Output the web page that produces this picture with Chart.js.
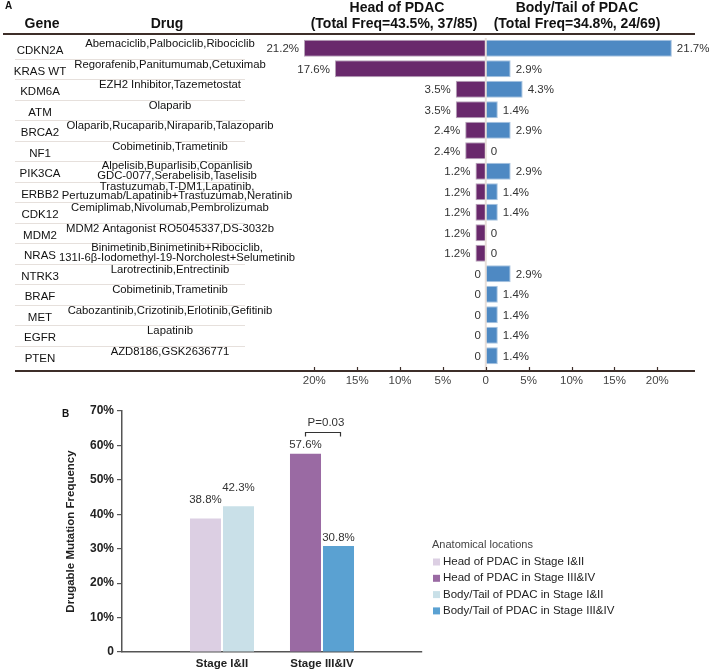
<!DOCTYPE html>
<html lang="en">
<head>
<meta charset="UTF-8">
<title>Drugable mutations in PDAC</title>
<script src="https://cdn.jsdelivr.net/npm/chart.js@4"></script>
<style>
  body { margin: 0; background: #fff; width: 709px; height: 670px; position: relative; overflow: hidden; }
  canvas { position: absolute; left: 0; }
  #panelA { top: 0; }
  #panelB { top: 395px; }
</style>
</head>
<body>
<canvas id="panelA" width="709" height="395"></canvas>
<canvas id="panelB" width="709" height="275"></canvas>
<script>
const FONT = "'Liberation Sans', Arial, Helvetica, sans-serif";

// ---- panel A data ----
const genes = ['CDKN2A', 'KRAS WT', 'KDM6A', 'ATM', 'BRCA2', 'NF1', 'PIK3CA', 'ERBB2',
               'CDK12', 'MDM2', 'NRAS', 'NTRK3', 'BRAF', 'MET', 'EGFR', 'PTEN'];
const drugs = [
  ['Abemaciclib,Palbociclib,Ribociclib'],
  ['Regorafenib,Panitumumab,Cetuximab'],
  ['EZH2 Inhibitor,Tazemetostat'],
  ['Olaparib'],
  ['Olaparib,Rucaparib,Niraparib,Talazoparib'],
  ['Cobimetinib,Trametinib'],
  ['Alpelisib,Buparlisib,Copanlisib', 'GDC-0077,Serabelisib,Taselisib'],
  ['Trastuzumab,T-DM1,Lapatinib,', 'Pertuzumab/Lapatinib+Trastuzumab,Neratinib'],
  ['Cemiplimab,Nivolumab,Pembrolizumab'],
  ['MDM2 Antagonist RO5045337,DS-3032b'],
  ['Binimetinib,Binimetinib+Ribociclib,', '131I-6\u03b2-Iodomethyl-19-Norcholest+Selumetinib'],
  ['Larotrectinib,Entrectinib'],
  ['Cobimetinib,Trametinib'],
  ['Cabozantinib,Crizotinib,Erlotinib,Gefitinib'],
  ['Lapatinib'],
  ['AZD8186,GSK2636771']
];
const headFreq = [21.2, 17.6, 3.5, 3.5, 2.4, 2.4, 1.2, 1.2, 1.2, 1.2, 1.2, 0, 0, 0, 0, 0];
const bodyFreq = [21.7, 2.9, 4.3, 1.4, 2.9, 0, 2.9, 1.4, 1.4, 0, 0, 2.9, 1.4, 1.4, 1.4, 1.4];
const headTitle = ['Head of PDAC', '(Total Freq=43.5%, 37/85)'];
const bodyTitle = ['Body/Tail of PDAC', '(Total Freq=34.8%, 24/69)'];

// ---- panel B data ----
const stages = ['Stage I&II', 'Stage III&IV'];
const headByStage = [38.8, 57.6];
const bodyByStage = [42.3, 30.8];
const groupLabels = ['Head of PDAC in Stage I&II', 'Head of PDAC in Stage III&IV',
                     'Body/Tail of PDAC in Stage I&II', 'Body/Tail of PDAC in Stage III&IV'];
const pText = 'P=0.03';

Chart.defaults.font.family = FONT;
Chart.defaults.color = '#333';

const pct = v => v === 0 ? '0' : v + '%';

function line(ctx, x1, y1, x2, y2) {
  ctx.beginPath();
  ctx.moveTo(x1, y1);
  ctx.lineTo(x2, y2);
  ctx.stroke();
}

// table, headers, rules and value labels for panel A
const tablePlugin = {
  id: 'table',
  afterDatasetsDraw(chart) {
    const { ctx, chartArea, scales: { x, y } } = chart;
    const zero = x.getPixelForValue(0);
    const axisY = chartArea.bottom + 5;
    ctx.save();

    // zero line
    ctx.strokeStyle = '#e8dfda';
    ctx.lineWidth = 2;
    line(ctx, zero, chartArea.top, zero, axisY);

    // value labels
    ctx.font = `11.5px ${FONT}`;
    ctx.fillStyle = '#333';
    ctx.textBaseline = 'middle';
    chart.getDatasetMeta(0).data.forEach((bar, i) => {
      ctx.textAlign = 'right';
      ctx.fillText(pct(headFreq[i]), Math.min(bar.x, zero) - 5, bar.y + 1);
    });
    chart.getDatasetMeta(1).data.forEach((bar, i) => {
      ctx.textAlign = 'left';
      ctx.fillText(pct(bodyFreq[i]), Math.max(bar.x, zero) + 5, bar.y + 1);
    });

    // headers
    ctx.fillStyle = '#111';
    ctx.textAlign = 'center';
    ctx.font = `bold 14px ${FONT}`;
    ctx.fillText('Gene', 42, 24);
    ctx.fillText('Drug', 167, 24);
    ctx.fillText(headTitle[0], 397, 8);
    ctx.fillText(headTitle[1], 394, 24);
    ctx.fillText(bodyTitle[0], 577, 8);
    ctx.fillText(bodyTitle[1], 577, 24);
    ctx.font = `bold 10px ${FONT}`;
    ctx.textAlign = 'left';
    ctx.fillText('A', 5, 6);

    // rules
    ctx.strokeStyle = '#3d2e29';
    ctx.lineWidth = 2;
    line(ctx, 3, 34, 695, 34);
    line(ctx, 15, axisY, 695, axisY);
    ctx.lineWidth = 1.2;
    x.ticks.forEach(t => {
      const px = Math.round(x.getPixelForValue(t.value)) + 0.5;
      line(ctx, px, axisY, px, axisY - 4);
    });

    // table rows
    const rowH = y.getPixelForValue(1) - y.getPixelForValue(0);
    ctx.strokeStyle = '#e6e0dc';
    ctx.lineWidth = 1;
    genes.forEach((g, i) => {
      const cy = y.getPixelForValue(i);
      if (i < genes.length - 1) {
        line(ctx, 15, Math.round(cy + rowH / 2) + 0.5, 245, Math.round(cy + rowH / 2) + 0.5);
      }
      ctx.fillStyle = '#111';
      ctx.textAlign = 'center';
      ctx.font = `11.5px ${FONT}`;
      ctx.fillText(g, 40, cy + 3);
      ctx.font = `11.3px ${FONT}`;
      const lines = drugs[i];
      if (lines.length === 1) {
        ctx.fillText(lines[0], 170, cy - 4, 212);
      } else {
        ctx.fillText(lines[0], 177, cy - 5, 236);
        ctx.fillText(lines[1], 177, cy + 4.5, 236);
      }
    });
    ctx.restore();
  }
};

const noZeroBorder = c => (c.raw === 0 ? 0 : 1);

new Chart(document.getElementById('panelA'), {
  type: 'bar',
  data: {
    labels: genes,
    datasets: [
      {
        label: headTitle[0],
        data: headFreq.map(v => -v),
        backgroundColor: '#69296c',
        borderColor: '#b6a4b8',
        borderWidth: noZeroBorder,
        grouped: false
      },
      {
        label: bodyTitle[0],
        data: bodyFreq,
        backgroundColor: '#4e89c3',
        borderColor: '#a9c4df',
        borderWidth: noZeroBorder,
        grouped: false
      }
    ]
  },
  options: {
    indexAxis: 'y',
    responsive: false,
    animation: false,
    barPercentage: 0.83,
    categoryPercentage: 1,
    layout: { padding: { left: 280, right: 14, top: 38, bottom: 0 } },
    plugins: { legend: { display: false }, tooltip: { enabled: false } },
    scales: {
      x: {
        min: -24,
        max: 24.4,
        grid: { display: false, drawTicks: false },
        border: { display: false },
        ticks: {
          stepSize: 5,
          includeBounds: false,
          padding: 8,
          color: '#444',
          font: { size: 11.5 },
          callback: v => pct(Math.abs(v))
        },
        afterFit: s => { s.height = 29; }
      },
      y: { display: false }
    }
  },
  plugins: [tablePlugin]
});

// value labels, p-value bracket and legend for panel B
const extrasPlugin = {
  id: 'extras',
  afterDraw(chart) {
    const { ctx, scales: { y } } = chart;
    const labelLift = [18.5, 8.5];
    ctx.save();
    ctx.font = `11.5px ${FONT}`;
    ctx.fillStyle = '#333';
    ctx.textAlign = 'center';
    ctx.textBaseline = 'middle';
    chart.data.datasets.forEach((ds, d) => {
      chart.getDatasetMeta(d).data.forEach((bar, i) => {
        const v = ds.data[i];
        if (v == null) return;
        ctx.fillText(v.toFixed(1) + '%', bar.x, bar.y - labelLift[i - 1]);
      });
    });

    // bracket between the stage III&IV bars
    const a = chart.getDatasetMeta(1).data[2];
    const b = chart.getDatasetMeta(3).data[2];
    const by = Math.round(y.getPixelForValue(64)) + 0.5;
    ctx.strokeStyle = '#333';
    ctx.lineWidth = 1.2;
    ctx.beginPath();
    ctx.moveTo(a.x, by + 4);
    ctx.lineTo(a.x, by);
    ctx.lineTo(b.x + 2, by);
    ctx.lineTo(b.x + 2, by + 4);
    ctx.stroke();
    ctx.fillText(pText, (a.x + b.x) / 2 + 4, by - 10);

    // legend
    ctx.textAlign = 'left';
    ctx.fillStyle = '#444';
    ctx.font = `11px ${FONT}`;
    ctx.fillText('Anatomical locations', 432, 150);
    ctx.font = `11.5px ${FONT}`;
    chart.data.datasets.forEach((ds, d) => {
      const ly = 167 + d * 16.3;
      ctx.fillStyle = ds.backgroundColor;
      ctx.fillRect(433, ly - 3.5, 7, 7);
      ctx.fillStyle = '#222';
      ctx.fillText(ds.label, 443, ly);
    });

    ctx.fillStyle = '#111';
    ctx.font = `bold 10px ${FONT}`;
    ctx.fillText('B', 62, 19);
    ctx.restore();
  }
};

const xLabelsB = ['', ...stages, ''];
const atStage = (s, v) => xLabelsB.map((_, i) => (i === s + 1 ? v : null));
const colorsB = ['#dccfe3', '#9a6aa3', '#c9e0e8', '#5aa1d2'];

new Chart(document.getElementById('panelB'), {
  type: 'bar',
  data: {
    labels: xLabelsB,
    datasets: [
      { label: groupLabels[0], data: atStage(0, headByStage[0]), backgroundColor: colorsB[0] },
      { label: groupLabels[1], data: atStage(1, headByStage[1]), backgroundColor: colorsB[1] },
      { label: groupLabels[2], data: atStage(0, bodyByStage[0]), backgroundColor: colorsB[2] },
      { label: groupLabels[3], data: atStage(1, bodyByStage[1]), backgroundColor: colorsB[3] }
    ]
  },
  options: {
    responsive: false,
    animation: false,
    skipNull: true,
    categoryPercentage: 0.66,
    barPercentage: 0.94,
    layout: { padding: { left: 60, right: 287, top: 16, bottom: 0 } },
    plugins: { legend: { display: false }, tooltip: { enabled: false } },
    scales: {
      x: {
        offset: false,
        grid: {
          drawOnChartArea: false,
          tickLength: 4,
          lineWidth: 1.2,
          color: c => (c.index === 0 ? '#444' : 'rgba(0,0,0,0)')
        },
        border: { color: '#555', width: 1.5 },
        ticks: {
          autoSkip: false,
          maxRotation: 0,
          padding: 1,
          color: '#222',
          font: { size: 11.5, weight: 'bold' }
        },
        afterFit: s => { s.height = 18; }
      },
      y: {
        min: 0,
        max: 70,
        grid: { drawOnChartArea: false, tickLength: 5, color: '#555', lineWidth: 1.2 },
        border: { color: '#555', width: 1.5 },
        ticks: {
          stepSize: 10,
          padding: 3,
          color: '#222',
          font: { size: 12, weight: 'bold' },
          callback: v => pct(v)
        },
        title: {
          display: true,
          text: 'Drugable Mutation Frequency',
          color: '#222',
          font: { size: 11.5, weight: 'bold' },
          padding: { top: 4, bottom: 0 }
        },
        afterFit: s => { s.width = 62; }
      }
    }
  },
  plugins: [extrasPlugin]
});
</script>
</body>
</html>
